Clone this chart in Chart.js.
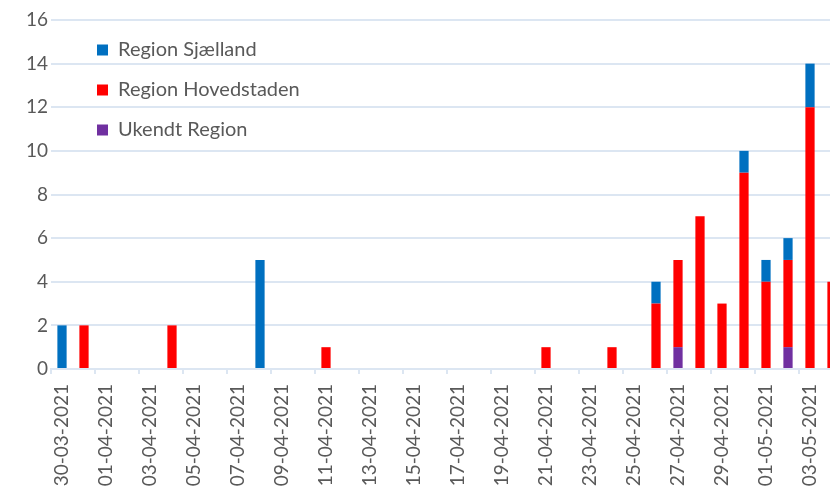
<!DOCTYPE html>
<html>
<head>
<meta charset="utf-8">
<script src="https://cdn.jsdelivr.net/npm/chart.js@4/dist/chart.umd.min.js"></script>
<style>
  html, body { margin: 0; padding: 0; background: #fff; overflow: hidden; }
  #wrap { width: 848px; height: 486px; }
</style>
</head>
<body>
<div id="wrap"><canvas id="chart" width="848" height="486"></canvas></div>
<script>
// Datoer (kategorier)
const dates = [
  "30-03-2021", "31-03-2021",
  "01-04-2021", "02-04-2021", "03-04-2021", "04-04-2021", "05-04-2021",
  "06-04-2021", "07-04-2021", "08-04-2021", "09-04-2021", "10-04-2021",
  "11-04-2021", "12-04-2021", "13-04-2021", "14-04-2021", "15-04-2021",
  "16-04-2021", "17-04-2021", "18-04-2021", "19-04-2021", "20-04-2021",
  "21-04-2021", "22-04-2021", "23-04-2021", "24-04-2021", "25-04-2021",
  "26-04-2021", "27-04-2021", "28-04-2021", "29-04-2021", "30-04-2021",
  "01-05-2021", "02-05-2021", "03-05-2021", "04-05-2021"
];

// Antal pr. region
const sjaelland   = [2,0,0,0,0,0,0,0,0,5,0,0,0,0,0,0,0,0,0,0,0,0,0,0,0,0,0,1,0,0,0,1,1,1,2,0];
const hovedstaden = [0,2,0,0,0,2,0,0,0,0,0,0,1,0,0,0,0,0,0,0,0,0,1,0,0,1,0,3,4,7,3,9,4,4,12,4];
const ukendt      = [0,0,0,0,0,0,0,0,0,0,0,0,0,0,0,0,0,0,0,0,0,0,0,0,0,0,0,0,1,0,0,0,0,1,0,0];

// Y-akse
const yMax = 16;
const yStep = 2;

const gridColor = "#dce6f2";
const textColor = "#595959";
const fontFamily = "Lato, 'Noto Sans', sans-serif";

// Flyt legenden lidt ind i plotområdet
const legendShift = {
  id: "legendShift",
  afterLayout(chart) {
    if (chart.legend) {
      chart.legend.left = chart.chartArea.left + 26;
      chart.legend.top += 20;
    }
  }
};

new Chart(document.getElementById("chart"), {
  type: "bar",
  data: {
    labels: dates,
    datasets: [
      { label: "Ukendt Region", data: ukendt, backgroundColor: "#7030a0" },
      { label: "Region Hovedstaden", data: hovedstaden, backgroundColor: "#ff0000" },
      { label: "Region Sjælland", data: sjaelland, backgroundColor: "#0070c0" }
    ]
  },
  options: {
    responsive: false,
    animation: false,
    layout: { padding: { top: 20, right: 5, left: 0, bottom: 0 } },
    datasets: {
      bar: { categoryPercentage: 1, barPercentage: 0.42 }
    },
    plugins: {
      tooltip: { enabled: false },
      legend: {
        position: "chartArea",
        align: "start",
        reverse: true,
        labels: {
          boxWidth: 11,
          boxHeight: 11,
          padding: 20,
          color: textColor,
          font: { family: fontFamily, size: 20 }
        }
      }
    },
    scales: {
      x: {
        stacked: true,
        afterFit(axis) {
          axis.height = 117;
          axis.paddingLeft = 0;
          axis.paddingRight = 0;
        },
        border: { color: gridColor, width: 2 },
        grid: {
          drawOnChartArea: false,
          drawTicks: true,
          tickLength: 5,
          lineWidth: 2,
          color: (ctx) => (ctx.index % 2 === 0 ? gridColor : "rgba(0,0,0,0)")
        },
        ticks: {
          autoSkip: false,
          minRotation: 90,
          maxRotation: 90,
          padding: 10,
          color: textColor,
          font: { family: fontFamily, size: 19 },
          callback: function (val, i) {
            return i % 2 === 0 ? this.getLabelForValue(val) : "";
          }
        }
      },
      y: {
        stacked: true,
        min: 0,
        max: yMax,
        afterFit(axis) { axis.width = 51; },
        border: { display: false },
        grid: { color: gridColor, lineWidth: 2, drawTicks: false },
        ticks: {
          stepSize: yStep,
          padding: 3,
          color: textColor,
          font: { family: fontFamily, size: 19 }
        }
      }
    }
  },
  plugins: [legendShift]
});
</script>
</body>
</html>
